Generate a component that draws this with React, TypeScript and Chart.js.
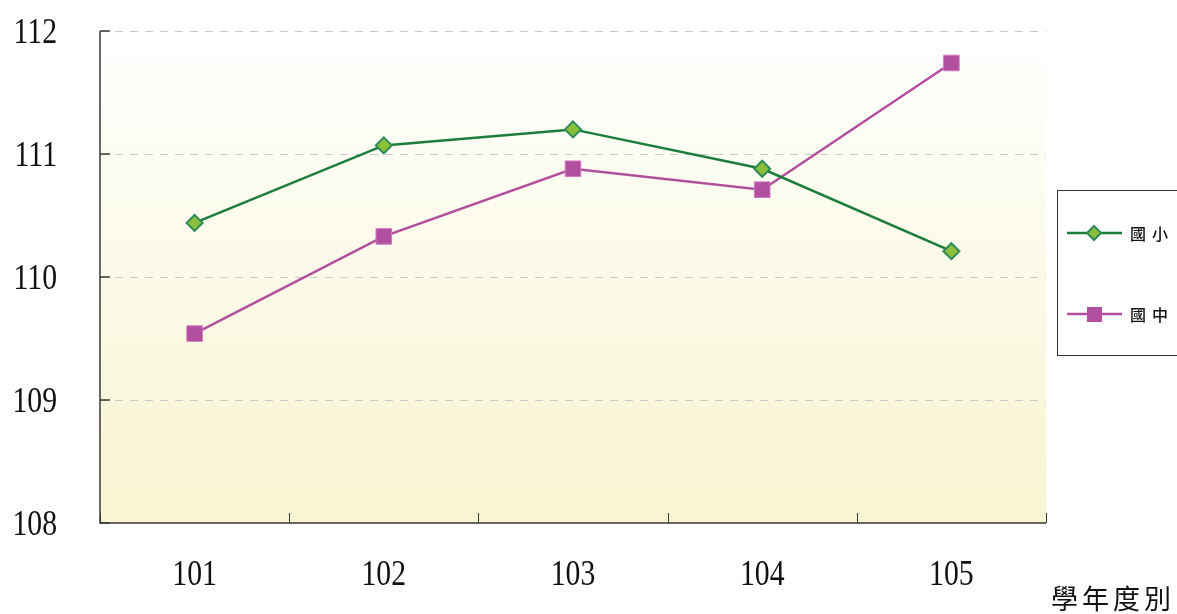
import React, { useEffect, useRef } from "react";
import { Chart, registerables } from "chart.js";

Chart.register(...registerables);

const categories = ["101", "102", "103", "104", "105"];
const elementary = [110.44, 111.07, 111.2, 110.88, 110.21];
const junior = [109.54, 110.33, 110.88, 110.71, 111.74];
const seriesNames = ["國小", "國中"];
const yTicks = [108, 109, 110, 111, 112];
const xAxisTitle = "學年度別";

const GREEN = "#1b7d3a";
const MAGENTA = "#b24f9f";
const NUM_FONT = "'Liberation Serif', 'DejaVu Serif', serif";
const CJK_FONT = "'Noto Sans CJK TC', 'Noto Sans CJK SC', sans-serif";

function drawSpaced(ctx: CanvasRenderingContext2D, text: string, x: number, y: number, advance: number) {
  const chars = Array.from(text);
  chars.forEach((c, i) => ctx.fillText(c, x + i * advance, y));
}

// draws a horizontally condensed number label
function drawNum(ctx: CanvasRenderingContext2D, text: string, x: number, baseline: number, align: "right" | "center") {
  const sx = 0.85;
  ctx.save();
  ctx.font = `35px ${NUM_FONT}`;
  ctx.textAlign = align;
  ctx.textBaseline = "alphabetic";
  ctx.fillStyle = "#111";
  ctx.translate(x, baseline);
  ctx.scale(sx, 1);
  ctx.fillText(text, 0, 0);
  ctx.restore();
}

const decorPlugin = {
  id: "decor",
  beforeDatasetsDraw(chart: any) {
    const { ctx, chartArea } = chart;
    const { left, right, top, bottom } = chartArea;
    const yScale = chart.scales.y;
    const xScale = chart.scales.x;
    ctx.save();
    const g = ctx.createLinearGradient(0, top, 0, bottom);
    g.addColorStop(0, "#ffffff");
    g.addColorStop(0.2, "#fdfdf6");
    g.addColorStop(1, "#f8f5d0");
    ctx.fillStyle = g;
    ctx.fillRect(left, top, right - left, bottom - top);
    ctx.strokeStyle = "#c9c9c9";
    ctx.lineWidth = 1;
    ctx.setLineDash([8, 7]);
    yTicks.forEach((v) => {
      if (v === yTicks[0]) return;
      const y = Math.round(yScale.getPixelForValue(v)) + 0.5;
      ctx.beginPath();
      ctx.moveTo(left, y);
      ctx.lineTo(right, y);
      ctx.stroke();
    });
    ctx.setLineDash([]);
    ctx.strokeStyle = "#3a3a3a";
    ctx.lineWidth = 1.5;
    ctx.beginPath();
    ctx.moveTo(left, top);
    ctx.lineTo(left, bottom);
    ctx.lineTo(right, bottom);
    ctx.stroke();
    yTicks.forEach((v) => {
      const y = yScale.getPixelForValue(v);
      ctx.beginPath();
      ctx.moveTo(left, y);
      ctx.lineTo(left + 10, y);
      ctx.stroke();
    });
    ctx.lineWidth = 1;
    const step = xScale.getPixelForValue(1) - xScale.getPixelForValue(0);
    for (let i = 0; i <= categories.length; i++) {
      const x = i < categories.length ? xScale.getPixelForValue(i) - step / 2 : right;
      const xx = Math.round(x) + 0.5;
      ctx.beginPath();
      ctx.moveTo(xx, bottom);
      ctx.lineTo(xx, bottom - 10);
      ctx.stroke();
    }
    // tick labels
    yTicks.forEach((v) => {
      drawNum(ctx, String(v), 57, yScale.getPixelForValue(v) + 12, "right");
    });
    categories.forEach((c, i) => {
      drawNum(ctx, c, xScale.getPixelForValue(i), bottom + 62, "center");
    });
    ctx.restore();
  },
  afterDraw(chart: any) {
    const { ctx } = chart;
    ctx.save();
    ctx.fillStyle = "#111";
    ctx.font = `27px ${CJK_FONT}`;
    ctx.textBaseline = "middle";
    ctx.textAlign = "left";
    drawSpaced(ctx, xAxisTitle, 1051, 599, 31);
    ctx.strokeStyle = "#333";
    ctx.lineWidth = 1;
    ctx.strokeRect(1057.5, 190.5, 140, 165);
    const items = [
      { name: seriesNames[0], y: 233, color: GREEN, style: "rectRot" },
      { name: seriesNames[1], y: 314, color: MAGENTA, style: "rect" },
    ];
    items.forEach((it) => {
      ctx.strokeStyle = it.color;
      ctx.lineWidth = 2.5;
      ctx.beginPath();
      ctx.moveTo(1067, it.y);
      ctx.lineTo(1122, it.y);
      ctx.stroke();
      if (it.style === "rectRot") {
        ctx.fillStyle = "#8cbf3a";
        ctx.strokeStyle = "#2e8b57";
        ctx.lineWidth = 2;
        ctx.beginPath();
        ctx.moveTo(1094, it.y - 7);
        ctx.lineTo(1101, it.y);
        ctx.lineTo(1094, it.y + 7);
        ctx.lineTo(1087, it.y);
        ctx.closePath();
        ctx.fill();
        ctx.stroke();
      } else {
        ctx.fillStyle = MAGENTA;
        ctx.fillRect(1087, it.y - 7, 15, 15);
      }
      ctx.fillStyle = "#111";
      ctx.font = `500 16px ${CJK_FONT}`;
      ctx.textBaseline = "middle";
      drawSpaced(ctx, it.name, 1130, it.y + 1, 22);
    });
    ctx.restore();
  },
};

export default function App() {
  const ref = useRef<HTMLCanvasElement | null>(null);
  useEffect(() => {
    document.body.style.margin = "0";
    if (!ref.current) return;
    const chart = new Chart(ref.current, {
      type: "line",
      data: {
        labels: categories,
        datasets: [
          {
            label: seriesNames[0],
            data: elementary,
            borderColor: GREEN,
            borderWidth: 2.5,
            pointStyle: "rectRot",
            pointRadius: 8,
            pointBackgroundColor: "#8cbf3a",
            pointBorderColor: "#2e8b57",
            pointBorderWidth: 2,
            tension: 0,
          },
          {
            label: seriesNames[1],
            data: junior,
            borderColor: MAGENTA,
            borderWidth: 2.5,
            pointStyle: "rect",
            pointRadius: 11,
            pointBackgroundColor: MAGENTA,
            pointBorderColor: "#cf78c0",
            pointBorderWidth: 1,
            tension: 0,
          },
        ],
      },
      options: {
        responsive: false,
        animation: false,
        devicePixelRatio: 1,
        layout: { padding: { left: 0, top: 31, right: 131, bottom: 0 } },
        plugins: { legend: { display: false }, tooltip: { enabled: false } },
        scales: {
          x: {
            offset: true,
            grid: { display: false, drawTicks: false },
            border: { display: false },
            ticks: { display: false },
            afterFit: (s: any) => {
              s.height = 91;
              s.paddingLeft = 0;
              s.paddingRight = 0;
            },
          },
          y: {
            min: 108,
            max: 112,
            grid: { display: false, drawTicks: false },
            border: { display: false },
            ticks: { display: false, stepSize: 1 },
            afterFit: (s: any) => {
              s.width = 100;
              s.paddingTop = 0;
              s.paddingBottom = 0;
            },
          },
        },
      },
      plugins: [decorPlugin],
    });
    return () => chart.destroy();
  }, []);
  return <canvas ref={ref} width={1177} height={614} style={{ display: "block" }} />;
}
